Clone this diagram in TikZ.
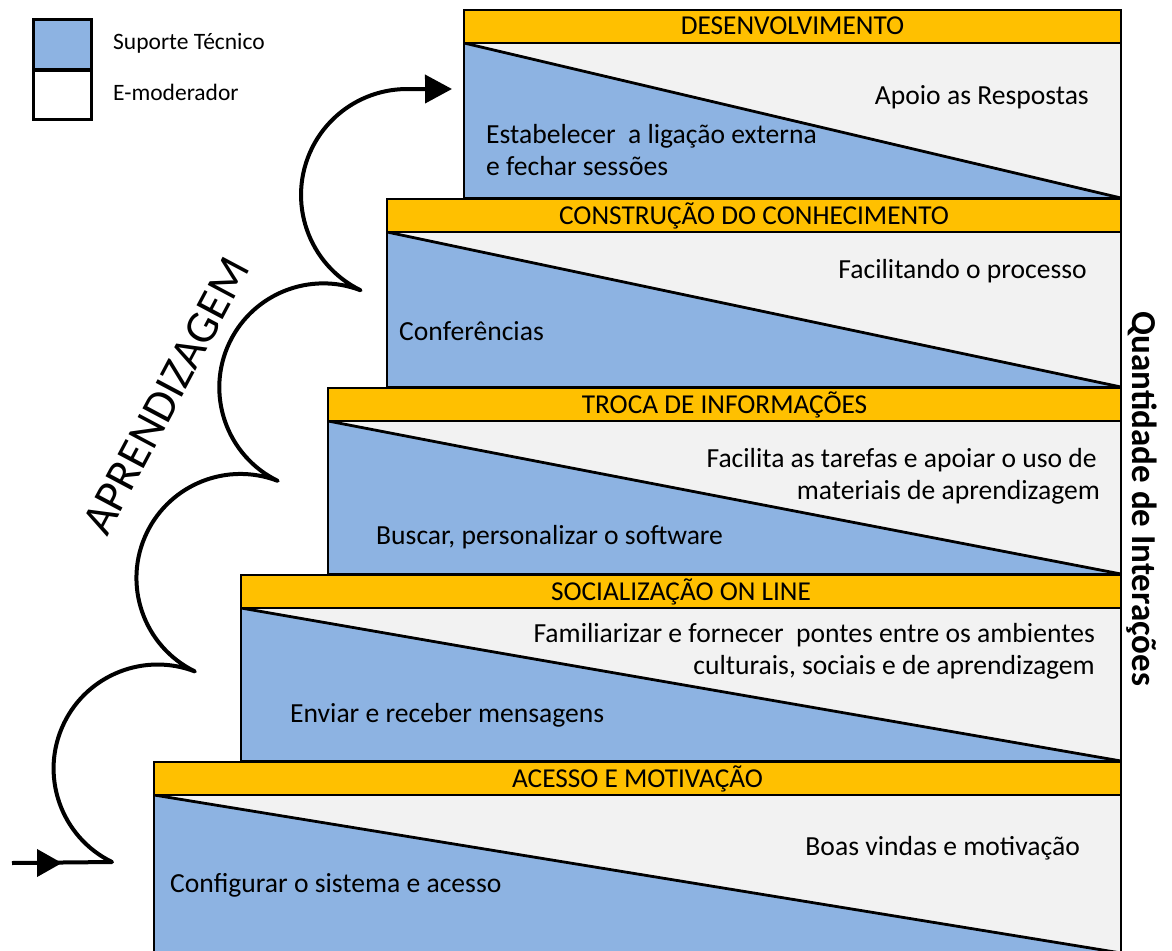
\documentclass[tikz,border=0pt]{standalone}
\usepackage{fontspec}
\setmainfont{Carlito}
\usetikzlibrary{arrows.meta}
\definecolor{tblue}{HTML}{8DB3E2}
\definecolor{tyel}{HTML}{FFC000}
\definecolor{tgrey}{HTML}{F2F2F2}
\newcommand{\drawstage}[6]{%
  \fill[tgrey] (#1,#3) rectangle (1121,#4);
  \fill[tblue] (#1,#3) -- (#1,#4) -- (1121,#4) -- cycle;
  \draw[line width=2.8pt] (#1,#3) -- (1121,#4);
  \draw[boxline] (#1,#3) rectangle (1121,#4);
  \draw[boxline,fill=tyel] (#1,#2) rectangle (1121,#3);
  \node[headtxt] (#6) at ({(#1+1121)/2},{#2+25}) {#5};
}
\begin{document}
\begin{tikzpicture}[x=1pt,y=-1pt,
  boxline/.style={draw=black,line width=2.6pt},
  headtxt/.style={anchor=base,inner sep=0pt,font=\fontsize{27.3}{32}\selectfont},
  bodytxt/.style={inner sep=0pt,font=\fontsize{27.6}{32}\selectfont},
  legtxt/.style={anchor=base west,inner sep=0pt,font=\fontsize{23.5}{27}\selectfont},
  curve/.style={line width=4pt,line join=round}
]
\useasboundingbox (0,0) rectangle (1172,950);

% legend
\draw[line width=3pt,fill=tblue] (33,20) rectangle (91,70);
\draw[line width=3pt,fill=white] (33,70) rectangle (91,119);
\node[legtxt] (lg1) at (113,50) {Suporte Técnico};
\node[legtxt] (lg2) at (113,100) {E-moderador};

% stages
\drawstage{464}{10}{43}{198}{DESENVOLVIMENTO}{h1}
\drawstage{387}{199}{232}{387}{CONSTRUÇÃO DO CONHECIMENTO}{h2}
\drawstage{328}{388}{421}{574}{TROCA DE INFORMAÇÕES}{h3}
\drawstage{241}{575}{608}{761}{SOCIALIZAÇÃO ON LINE}{h4}
\drawstage{154}{762}{795}{953}{ACESSO E MOTIVAÇÃO}{h5}

% stage texts
\node[bodytxt,anchor=base east] (t1a) at (1089,104) {Apoio as Respostas};
\node[bodytxt,anchor=base west] (t1b) at (486,143) {Estabelecer \ a ligação externa};
\node[bodytxt,anchor=base west] (t1c) at (486,175.5) {e fechar sessões};

\node[bodytxt,anchor=base east] (t2a) at (1087,278) {Facilitando o processo};
\node[bodytxt,anchor=base west] (t2b) at (399,340) {Conferências};

\node[bodytxt,anchor=base east] (t3a) at (1097,467) {Facilita as tarefas e apoiar o uso de};
\node[bodytxt,anchor=base east] (t3b) at (1100,499.5) {materiais de aprendizagem};
\node[bodytxt,anchor=base west] (t3c) at (376,544) {Buscar, personalizar o software};

\node[bodytxt,anchor=base east] (t4a) at (1095,642) {Familiarizar e fornecer \ pontes entre os ambientes};
\node[bodytxt,anchor=base east] (t4b) at (1095,674.5) {culturais, sociais e de aprendizagem};
\node[bodytxt,anchor=base west] (t4c) at (290,722.5) {Enviar e receber mensagens};

\node[bodytxt,anchor=base east] (t5a) at (1080,855) {Boas vindas e motivação};
\node[bodytxt,anchor=base west] (t5b) at (170,892) {Configurar o sistema e acesso};

% learning curve
\coordinate (cs) at (12,863);
\coordinate (cm) at (62,863);
\coordinate (c0) at (112,862);
\coordinate (ce) at (452,89);
\draw[curve,-{Triangle[length=25pt,width=27pt]}] (cs) -- (cm);
\draw[curve,-{Triangle[length=27pt,width=28pt]}] (cs) -- (c0)
  arc[start angle=244,end angle=69,radius=104pt]
  arc[start angle=244,end angle=69,radius=104pt]
  arc[start angle=244,end angle=69,radius=104pt]
  arc[start angle=244,end angle=90,radius=106pt] -- (ce);

\node[rotate=62,inner sep=0pt,font=\fontsize{46}{50}\selectfont] (apr) at (166,396) {APRENDIZAGEM};
\node[rotate=-90,anchor=base,inner sep=0pt,font=\bfseries\fontsize{35}{40}\selectfont] (qi) at (1132,499) {Quantidade de Interações};
\end{tikzpicture}
\end{document}
